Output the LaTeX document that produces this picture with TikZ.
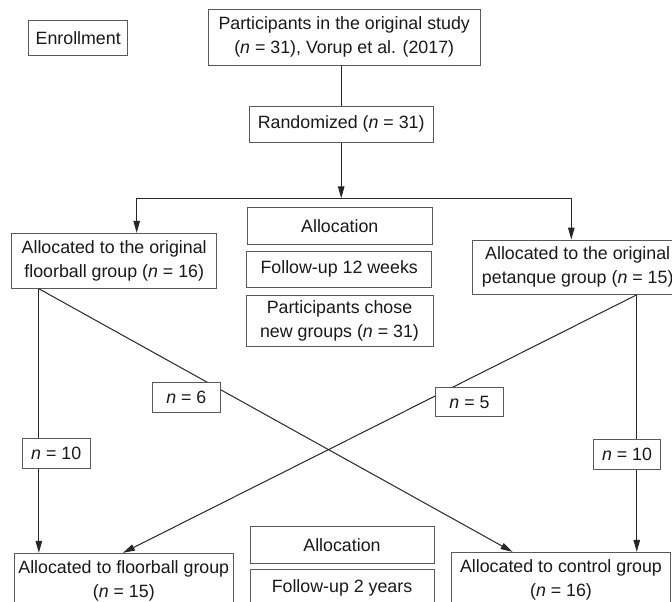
\documentclass[tikz,border=0pt]{standalone}
\usepackage{fontspec}
\setmainfont{Liberation Sans}
\usetikzlibrary{arrows.meta,calc}

\begin{document}
\begin{tikzpicture}[x=1pt,y=-1pt,
    box/.style={draw=black!65,fill=white,line width=0.9pt,align=center,inner sep=0pt,
      text=black!90,font=\fontsize{17.8}{24}\selectfont},
    lbl/.style={box,minimum width=67.5pt,minimum height=29.6pt},
    link/.style={draw=black!85,line width=1pt},
    arr/.style={link,-{Triangle[length=12pt,width=6.5pt]}}]
    \useasboundingbox (0,0) rectangle (672,602);
    \clip (0,0) rectangle (672,602);

    % --- Enrollment ---
    \node[box,minimum width=99pt,minimum height=35pt] (enrol) at (78.2,38.2) {Enrollment};
    \node[box,minimum width=272pt,minimum height=56pt] (orig) at (344.2,37.2)
        {Participants in the original study\\ (\textit{n} = 31), Vorup et al. (2017)};
    \node[box,minimum width=184pt,minimum height=36.7pt] (rand) at (341.2,124.3) {Randomized (\textit{n} = 31)};

    % --- First allocation ---
    \node[box,minimum width=205pt,minimum height=55pt] (floor0) at (114.2,260.8)
        {Allocated to the original\\ floorball group (\textit{n} = 16)};
    \node[box,minimum width=211pt,minimum height=54.3pt] (pet0) at (577.7,267.2)
        {Allocated to the original\\ petanque group (\textit{n} = 15)};
    \node[box,minimum width=185pt,minimum height=36.7pt] (alloc1) at (339.8,225.7) {Allocation};
    \node[box,minimum width=185pt,minimum height=36.7pt] (fu1) at (339.2,269.3) {Follow-up 12 weeks};
    \node[box,minimum width=187pt,minimum height=51.7pt] (chose) at (339.5,320.8)
        {Participants chose\\ new groups (\textit{n} = 31)};

    % --- Second allocation ---
    \node[box,minimum width=219.5pt,minimum height=56pt] (floor) at (123.8,581.3)
        {Allocated to floorball group\\ (\textit{n} = 15)};
    \node[box,minimum width=219.4pt,minimum height=56pt] (ctrl) at (561,580.3)
        {Allocated to control group\\ (\textit{n} = 16)};
    \node[box,minimum width=184pt,minimum height=36.6pt] (alloc2) at (342,545) {Allocation};
    \node[box,minimum width=184pt,minimum height=36.7pt] (fu2) at (342,587.7) {Follow-up 2 years};

    % --- Connectors ---
    \coordinate (split) at (341.2,198.3);
    \coordinate (splitL) at (136.7,198.3);
    \coordinate (splitR) at (571.3,198.3);
    \coordinate (fa) at ($(floor0.south west)+(27.6,0)$);
    \coordinate (pa) at ($(pet0.south west)+(165,0)$);
    \draw[link] (orig.south -| rand.north) -- (rand.north);
    \draw[arr] (rand.south) -- (split);
    \draw[link] (splitL) -- (splitR);
    \draw[arr] (splitL) -- (splitL |- floor0.north);
    \draw[arr] (splitR) -- (splitR |- pet0.north);
    \draw[arr] (fa) -- (fa |- floor.north);
    \draw[arr] (fa) -- ($(ctrl.north west)+(61.7,0)$);
    \draw[arr] (pa) -- (pa |- ctrl.north);
    \draw[arr] (pa) -- ($(floor.north west)+(109.3,0)$);

    % --- Counts on the connectors ---
    \foreach \nm/\px/\py/\val in {n6/186.3/397.5/6,n5/469.5/402/5,nL/56.2/453.5/10,nR/627/454.3/10}{
        \node[lbl] (\nm) at (\px,\py) {\textit{n} = \val};
    }
\end{tikzpicture}
\end{document}
